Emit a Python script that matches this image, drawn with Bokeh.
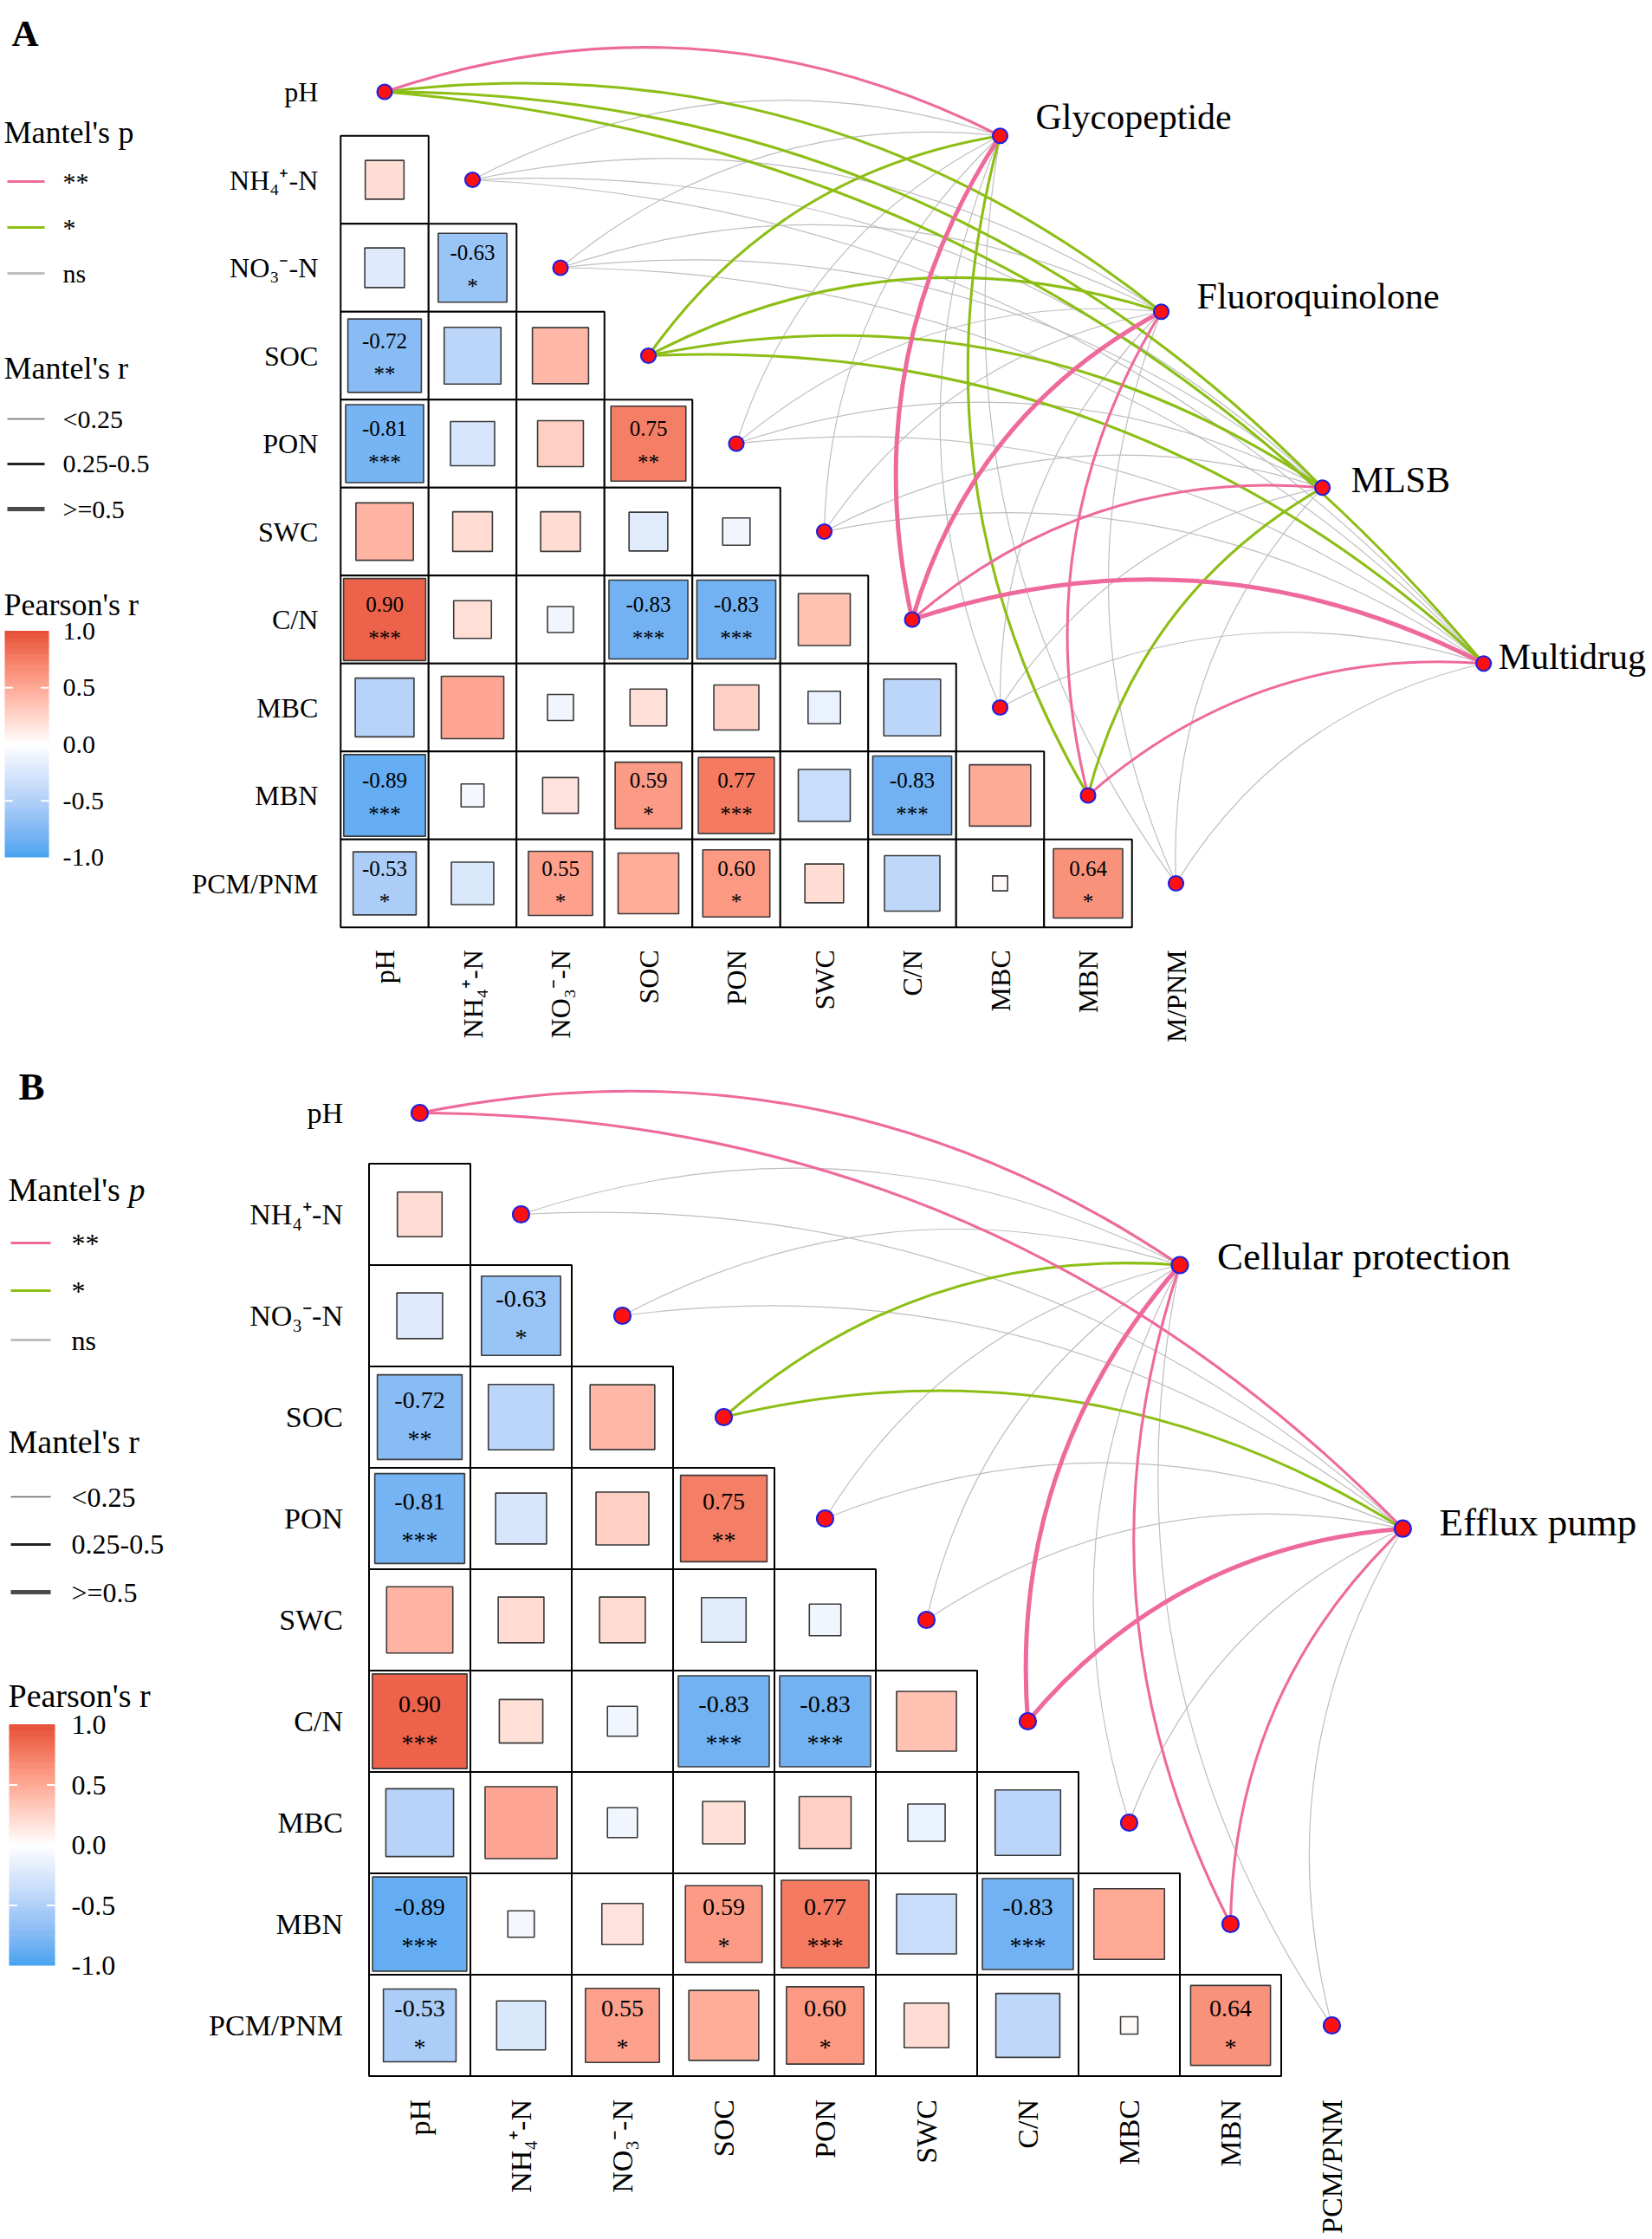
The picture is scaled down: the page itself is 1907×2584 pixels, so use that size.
import numpy as np
from bokeh.plotting import figure
from bokeh.models import Range1d, ColumnDataSource
from bokeh.core.properties import value
from bokeh.embed import file_html
from bokeh.resources import INLINE

# ---------------- DATA ----------------
env_vars = ["pH", "NH\u2084\u207a-N", "NO\u2083\u207b-N", "SOC", "PON", "SWC", "C/N", "MBC", "MBN", "PCM/PNM"]
col_labels_a = ["pH", "NH\u2084\u207a-N", "NO\u2083\u207b-N", "SOC", "PON", "SWC", "C/N", "MBC", "MBN", "M/PNM"]
col_labels_b = ["pH", "NH\u2084\u207a-N", "NO\u2083\u207b-N", "SOC", "PON", "SWC", "C/N", "MBC", "MBN", "PCM/PNM"]

# Pearson's r, lower triangle (row i, columns 0..i-1)
pearson_r = [
    [],
    [0.20],
    [-0.21, -0.63],
    [-0.72, -0.43, 0.42],
    [-0.81, -0.26, 0.28, 0.75],
    [0.44, 0.21, 0.21, -0.20, -0.10],
    [0.90, 0.19, -0.09, -0.83, -0.83, 0.36],
    [-0.46, 0.52, -0.09, 0.18, 0.27, -0.14, -0.43],
    [-0.89, -0.07, 0.17, 0.59, 0.77, -0.36, -0.83, 0.50],
    [-0.53, -0.24, 0.55, 0.49, 0.60, 0.20, -0.41, 0.03, 0.64],
]
pearson_sig = [
    [],
    [""],
    ["", "*"],
    ["**", "", ""],
    ["***", "", "", "**"],
    ["", "", "", "", ""],
    ["***", "", "", "***", "***", ""],
    ["", "", "", "", "", "", ""],
    ["***", "", "", "*", "***", "", "***", ""],
    ["*", "", "*", "", "*", "", "", "", "*"],
]

targets_a = ["Glycopeptide", "Fluoroquinolone", "MLSB", "Multidrug"]
mantel_p_a = [
    ["**", "ns", "ns", "*", "ns", "ns", "**", "ns", "*", "ns"],
    ["*", "ns", "ns", "*", "ns", "ns", "**", "ns", "**", "ns"],
    ["*", "ns", "ns", "*", "ns", "ns", "**", "ns", "*", "ns"],
    ["*", "ns", "ns", "*", "ns", "ns", "**", "ns", "**", "ns"],
]
mantel_r_a = [
    ["0.25-0.5", "<0.25", "<0.25", "0.25-0.5", "<0.25", "<0.25", ">=0.5", "<0.25", "0.25-0.5", "<0.25"],
    ["0.25-0.5", "<0.25", "<0.25", "0.25-0.5", "<0.25", "<0.25", ">=0.5", "<0.25", "0.25-0.5", "<0.25"],
    ["0.25-0.5", "<0.25", "<0.25", "0.25-0.5", "<0.25", "<0.25", "0.25-0.5", "<0.25", "0.25-0.5", "<0.25"],
    ["0.25-0.5", "<0.25", "<0.25", "0.25-0.5", "<0.25", "<0.25", ">=0.5", "<0.25", "0.25-0.5", "<0.25"],
]

targets_b = ["Cellular protection", "Efflux pump"]
mantel_p_b = [
    ["**", "ns", "ns", "*", "ns", "ns", "**", "ns", "**", "ns"],
    ["**", "ns", "ns", "*", "ns", "ns", "**", "ns", "**", "ns"],
]
mantel_r_b = [
    ["0.25-0.5", "<0.25", "<0.25", "0.25-0.5", "<0.25", "<0.25", ">=0.5", "<0.25", "0.25-0.5", "<0.25"],
    ["0.25-0.5", "<0.25", "<0.25", "0.25-0.5", "<0.25", "<0.25", ">=0.5", "<0.25", "0.25-0.5", "<0.25"],
]

p_levels = ["**", "*", "ns"]
r_levels = ["<0.25", "0.25-0.5", ">=0.5"]
cbar_ticks = [1.0, 0.5, 0.0, -0.5, -1.0]
cbar_tick_labels = ["1.0", "0.5", "0.0", "-0.5", "-1.0"]

# ---------------- STYLE ----------------
FONT = value("Liberation Serif")
p_color = {"**": "#EE6A9C", "*": "#8DBE16", "ns": "#BEBEBE"}
r_width = {"<0.25": 1.2, "0.25-0.5": 3.1, ">=0.5": 5.0}
r_legend_color = {"<0.25": "#666666", "0.25-0.5": "#222222", ">=0.5": "#4a4a4a"}
C_LO = (69, 163, 240)
C_MID = (255, 255, 255)
C_HI = (230, 78, 55)


def _to_lab(rgb):
    c = np.array(rgb, dtype=float) / 255.0
    c = np.where(c <= 0.04045, c / 12.92, ((c + 0.055) / 1.055) ** 2.4)
    M = np.array([[0.4124, 0.3576, 0.1805], [0.2126, 0.7152, 0.0722], [0.0193, 0.1192, 0.9505]])
    xyz = M @ c / np.array([0.95047, 1.0, 1.08883])
    f = np.where(xyz > 0.008856, np.cbrt(xyz), 7.787 * xyz + 16 / 116)
    return np.array([116 * f[1] - 16, 500 * (f[0] - f[1]), 200 * (f[1] - f[2])])


def _from_lab(lab):
    fy = (lab[0] + 16) / 116
    fx = fy + lab[1] / 500
    fz = fy - lab[2] / 200
    f = np.array([fx, fy, fz])
    xyz = np.where(f ** 3 > 0.008856, f ** 3, (f - 16 / 116) / 7.787) * np.array([0.95047, 1.0, 1.08883])
    Minv = np.array([[3.2406, -1.5372, -0.4986], [-0.9689, 1.8758, 0.0415], [0.0557, -0.2040, 1.0570]])
    c = Minv @ xyz
    c = np.clip(c, 0, 1)
    c = np.where(c <= 0.0031308, 12.92 * c, 1.055 * c ** (1 / 2.4) - 0.055)
    return tuple(int(round(v * 255)) for v in np.clip(c, 0, 1))


LAB_LO, LAB_MID, LAB_HI = _to_lab(C_LO), _to_lab(C_MID), _to_lab(C_HI)


def r_color(r):
    tgt = LAB_HI if r >= 0 else LAB_LO
    return "#%02x%02x%02x" % _from_lab(LAB_MID + abs(r) * (tgt - LAB_MID))


W, H = 1905, 2580
p = figure(width=W, height=H, x_range=Range1d(0, W), y_range=Range1d(-H, 0),
           output_backend="svg", toolbar_location=None, x_axis_location=None, y_axis_location=None,
           min_border=0, outline_line_color=None, background_fill_color="white",
           border_fill_color="white")
p.grid.visible = False


def txt(xs, ys, texts, size, align="left", baseline="middle", angle=0.0, style="normal", color="black"):
    src = ColumnDataSource(dict(x=list(xs), y=[-v for v in ys], t=list(texts)))
    p.text(x="x", y="y", text="t", source=src, text_font=FONT, text_font_size=size,
           text_align=align, text_baseline=baseline, angle=angle, text_font_style=style,
           text_color=color)


def draw_panel(L):
    x0, y0, cs = L["x0"], L["y0"], L["cell"]
    n = len(env_vars)
    gx = lambda j: x0 + j * cs
    gy = lambda i: y0 + i * cs

    # --- matrix cells ---
    cx, cy, side, fill = [], [], [], []
    vx, vy, vt, sx, sy, st = [], [], [], [], [], []
    for i in range(n):
        for j, r in enumerate(pearson_r[i]):
            cx.append(gx(j)); cy.append(-gy(i))
            side.append(np.sqrt(abs(r)) * cs * 0.985)
            fill.append(r_color(r))
            if pearson_sig[i][j]:
                vx.append(gx(j)); vy.append(gy(i) - 0.17 * cs); vt.append("%.2f" % r)
                sx.append(gx(j)); sy.append(gy(i) + 0.21 * cs); st.append(pearson_sig[i][j])
    p.rect(x=cx, y=cy, width=cs, height=cs, fill_color="white", line_color="black",
           line_width=L["cell_lw"])
    p.rect(x=cx, y=cy, width=side, height=side, fill_color=fill, line_color="#3a3a3a",
           line_width=1.6)
    txt(vx, vy, vt, L["cell_font"], align="center")
    txt(sx, sy, st, L["cell_font"], align="center")

    # --- axis labels ---
    txt([gx(0) - cs / 2 - L["lab_gap"]] * n, [gy(i) for i in range(n)], env_vars,
        L["lab_font"], align="right")
    bottom = gy(n - 1) + cs / 2
    txt([gx(j) for j in range(n)], [bottom + L["col_gap"]] * n, L["col_labels"],
        L["lab_font"], align="right", angle=np.pi / 2)

    # --- targets & edges ---
    nt = len(L["targets"])
    tx = [gx(L["t_start"][0] + k * L["t_step"][0]) for k in range(nt)]
    ty = [gy(L["t_start"][1] + k * L["t_step"][1]) for k in range(nt)]
    edges = []
    for k in range(nt):
        for i in range(n):
            ax, ay = gx(i), -gy(i)
            bx2, by2 = tx[k], -ty[k]
            dx, dy = bx2 - ax, by2 - ay
            ln = np.hypot(dx, dy)
            px, py = -dy / ln, dx / ln
            mx, my = (ax + bx2) / 2, (ay + by2) / 2
            off = 0.21 * ln
            pv, rv = L["mp"][k][i], L["mr"][k][i]
            edges.append((p_levels[::-1].index(pv), ax, ay, bx2, by2, mx + off * px, my + off * py,
                          p_color[pv], r_width[rv]))
    edges.sort(key=lambda e: e[0])
    es = ColumnDataSource(dict(x0=[e[1] for e in edges], y0=[e[2] for e in edges],
                               x1=[e[3] for e in edges], y1=[e[4] for e in edges],
                               cx=[e[5] for e in edges], cy=[e[6] for e in edges],
                               c=[e[7] for e in edges], w=[e[8] for e in edges]))
    p.quadratic(x0="x0", y0="y0", x1="x1", y1="y1", cx="cx", cy="cy", line_color="c",
                line_width="w", source=es)
    nx = [gx(i) for i in range(n)] + tx
    ny = [-gy(i) for i in range(n)] + [-v for v in ty]
    p.scatter(x=nx, y=ny, size=L["node"], fill_color="#FF1010", line_color="#2020E0",
              line_width=2.2)
    txt([v + d for v, d in zip(tx, L["t_lab_dx"])], [v + d for v, d in zip(ty, L["t_lab_dy"])],
        L["targets"], L["t_font"], align="left")

    # --- panel letter ---
    txt([L["letter_xy"][0]], [L["letter_xy"][1]], [L["letter"]], L["letter_font"],
        align="left", baseline="alphabetic", style="bold")

    # --- legends ---
    lx0, lx1, ltx = L["leg_x"]
    txt([L["title_x"]], [L["p_title_y"]], ["Mantel's "], L["title_font"])
    txt([L["title_x"] + L["p_italic_dx"]], [L["p_title_y"]], ["p"], L["title_font"],
        style="italic" if L["italic_p"] else "normal")
    for yy, lev in zip(L["p_item_y"], p_levels):
        p.line(x=[lx0, lx1], y=[-yy, -yy], line_color=p_color[lev], line_width=3)
    txt([ltx] * 3, L["p_item_y"], p_levels, L["item_font"])
    txt([L["title_x"]], [L["r_title_y"]], ["Mantel's r"], L["title_font"])
    for yy, lev in zip(L["r_item_y"], r_levels):
        p.line(x=[lx0, lx1], y=[-yy, -yy], line_color=r_legend_color[lev],
               line_width=r_width[lev] * 0.9 + 0.4)
    txt([ltx] * 3, L["r_item_y"], r_levels, L["item_font"])
    txt([L["title_x"]], [L["c_title_y"]], ["Pearson's r"], L["title_font"])

    # colorbar
    cb_l, cb_r, cb_t, cb_b = L["cbar"]
    nseg = 120
    vals = np.linspace(-1, 1, nseg)
    seg_h = (cb_b - cb_t) / nseg
    ybot = [-(cb_b - k * seg_h) for k in range(nseg)]
    p.quad(left=cb_l, right=cb_r, bottom=ybot, top=[v + seg_h + 0.6 for v in ybot],
           fill_color=[r_color(v) for v in vals], line_color=None)
    tick_y = [cb_b - (t + 1) / 2 * (cb_b - cb_t) for t in cbar_ticks]
    inner = [t for t in cbar_ticks if abs(t) < 1]
    iy = [-(cb_b - (t + 1) / 2 * (cb_b - cb_t)) for t in inner]
    tl = (cb_r - cb_l) * 0.18
    p.segment(x0=[cb_l] * len(iy), x1=[cb_l + tl] * len(iy), y0=iy, y1=iy, line_color="white",
              line_width=2)
    p.segment(x0=[cb_r - tl] * len(iy), x1=[cb_r] * len(iy), y0=iy, y1=iy, line_color="white",
              line_width=2)
    txt([L["cbar_lab_x"]] * 5, tick_y, cbar_tick_labels, L["item_font"])


panel_a = dict(x0=443.5, y0=105.5, cell=101.5, cell_lw=2.0, cell_font="25px", lab_font="32px",
               lab_gap=26, col_gap=26, col_labels=col_labels_a, targets=targets_a, mp=mantel_p_a,
               mr=mantel_r_a, t_start=(7.0, 0.5), t_step=(1.833, 2.0), node=17,
               t_lab_dx=[41, 41, 33, 17], t_lab_dy=[-22, -18, -9, -8], t_font="42px",
               letter="A", letter_xy=(13, 38), letter_font="43px", leg_x=(8, 51, 72), title_x=4,
               p_italic_dx=132, italic_p=False, title_font="36px", item_font="30px",
               p_title_y=152, p_item_y=[209, 262, 315], r_title_y=424, r_item_y=[483, 535, 587],
               c_title_y=697, cbar=(5, 56, 728, 989), cbar_lab_x=72)
panel_b = dict(x0=484.0, y0=1284.0, cell=117.0, cell_lw=2.0, cell_font="28px", lab_font="34px",
               lab_gap=30, col_gap=27, col_labels=col_labels_b, targets=targets_b, mp=mantel_p_b,
               mr=mantel_r_b, t_start=(7.5, 1.5), t_step=(2.2, 2.6), node=19,
               t_lab_dx=[43, 42], t_lab_dy=[-10, -7], t_font="45px", letter="B",
               letter_xy=(21, 1253), letter_font="45px", leg_x=(12, 58, 82), title_x=9,
               p_italic_dx=139, italic_p=True, title_font="38px", item_font="32px",
               p_title_y=1372, p_item_y=[1434, 1489, 1546], r_title_y=1663,
               r_item_y=[1727, 1782, 1837], c_title_y=1956, cbar=(10, 63, 1990, 2268),
               cbar_lab_x=82)

draw_panel(panel_a)
draw_panel(panel_b)

open("out.html", "w").write(file_html(p, INLINE))
